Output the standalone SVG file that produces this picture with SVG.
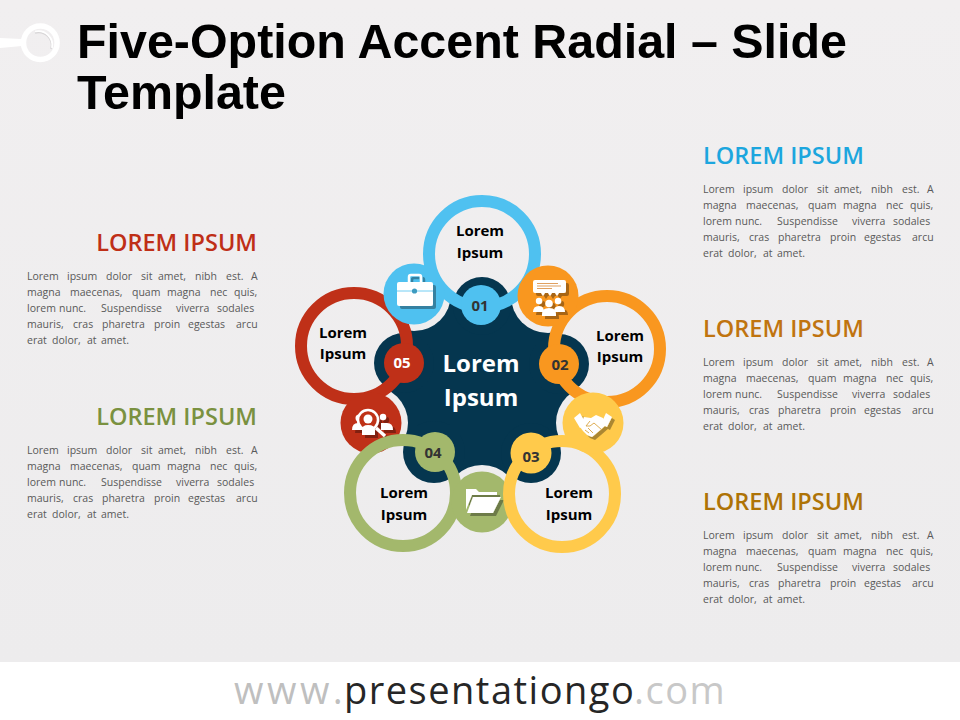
<svg xmlns="http://www.w3.org/2000/svg" width="960" height="720" viewBox="0 0 960 720">
<style>
text{font-family:"Open Sans","Liberation Sans",sans-serif}
.title{font-family:"Liberation Sans",Arial,sans-serif;font-weight:700;font-size:48.400px;fill:#000}
.head{font-weight:600;font-size:23.500px}
.body{font-size:10.500px;fill:#595959}
.lab{font-weight:700;font-size:15px;fill:#000;text-anchor:middle}
.num{font-weight:700;font-size:15px;fill:#333;text-anchor:middle}
.ring{fill:none;stroke-width:12}
.w{fill:#fff}
.ws{fill:none;stroke:#fff}
</style>
<defs>
<linearGradient id="bg" gradientUnits="userSpaceOnUse" x1="0" y1="0" x2="0" y2="662"><stop offset="0" stop-color="#f1eff0"/><stop offset="1" stop-color="#edeced"/></linearGradient>
<filter id="sh" x="-20%" y="-20%" width="150%" height="150%"><feDropShadow dx="3" dy="3" stdDeviation="0.6" flood-color="#000" flood-opacity="0.33"/></filter>
</defs>
<rect width="960" height="662" fill="url(#bg)"/>
<rect y="662" width="960" height="58" fill="#fff"/>
<g id="header-mark">
<path d="M0 38L22 39V46L0 48Z" fill="#fff"/>
<circle cx="40.300" cy="42.700" r="16.800" fill="none" stroke="#fff" stroke-width="5.500"/>
<path d="M35 33A13 13 0 0 1 51 49" fill="none" stroke="#d8d6d7" stroke-width="1.500"/>
<path d="M35 31.500A14 14 0 0 1 52 48" fill="none" stroke="#fff" stroke-width="1.800"/>
</g>
<text class="title" x="77" y="58">Five-Option Accent Radial – Slide</text>
<text class="title" x="77" y="109">Template</text>

<g id="text-r1" transform="translate(703,0)">
<text class="head" y="164" fill="#1CA6DE">LOREM IPSUM</text>
<text class="body"><tspan y="193" x="0">Lorem</tspan> <tspan x="40">ipsum</tspan> <tspan x="79">dolor</tspan> <tspan x="114">sit</tspan> <tspan x="131">amet,</tspan> <tspan x="168">nibh</tspan> <tspan x="199">est.</tspan> <tspan x="224">A</tspan><tspan y="209" x="0">magna</tspan> <tspan x="43">maecenas,</tspan> <tspan x="105">quam</tspan> <tspan x="140">magna</tspan> <tspan x="183">nec</tspan> <tspan x="207">quis,</tspan><tspan y="225" x="0">lorem</tspan> <tspan x="32">nunc.</tspan> <tspan x="74">Suspendisse</tspan> <tspan x="149">viverra</tspan> <tspan x="190">sodales</tspan><tspan y="241" x="0">mauris,</tspan> <tspan x="46">cras</tspan> <tspan x="75">pharetra</tspan> <tspan x="127">proin</tspan> <tspan x="161">egestas</tspan> <tspan x="209">arcu</tspan><tspan y="257" x="0">erat</tspan> <tspan x="25">dolor,</tspan> <tspan x="60">at</tspan> <tspan x="74">amet.</tspan></text>
</g>
<g id="text-r2" transform="translate(703,173)">
<text class="head" y="164" fill="#C0740F">LOREM IPSUM</text>
<text class="body"><tspan y="193" x="0">Lorem</tspan> <tspan x="40">ipsum</tspan> <tspan x="79">dolor</tspan> <tspan x="114">sit</tspan> <tspan x="131">amet,</tspan> <tspan x="168">nibh</tspan> <tspan x="199">est.</tspan> <tspan x="224">A</tspan><tspan y="209" x="0">magna</tspan> <tspan x="43">maecenas,</tspan> <tspan x="105">quam</tspan> <tspan x="140">magna</tspan> <tspan x="183">nec</tspan> <tspan x="207">quis,</tspan><tspan y="225" x="0">lorem</tspan> <tspan x="32">nunc.</tspan> <tspan x="74">Suspendisse</tspan> <tspan x="149">viverra</tspan> <tspan x="190">sodales</tspan><tspan y="241" x="0">mauris,</tspan> <tspan x="46">cras</tspan> <tspan x="75">pharetra</tspan> <tspan x="127">proin</tspan> <tspan x="161">egestas</tspan> <tspan x="209">arcu</tspan><tspan y="257" x="0">erat</tspan> <tspan x="25">dolor,</tspan> <tspan x="60">at</tspan> <tspan x="74">amet.</tspan></text>
</g>
<g id="text-r3" transform="translate(703,346)">
<text class="head" y="164" fill="#AE7306">LOREM IPSUM</text>
<text class="body"><tspan y="193" x="0">Lorem</tspan> <tspan x="40">ipsum</tspan> <tspan x="79">dolor</tspan> <tspan x="114">sit</tspan> <tspan x="131">amet,</tspan> <tspan x="168">nibh</tspan> <tspan x="199">est.</tspan> <tspan x="224">A</tspan><tspan y="209" x="0">magna</tspan> <tspan x="43">maecenas,</tspan> <tspan x="105">quam</tspan> <tspan x="140">magna</tspan> <tspan x="183">nec</tspan> <tspan x="207">quis,</tspan><tspan y="225" x="0">lorem</tspan> <tspan x="32">nunc.</tspan> <tspan x="74">Suspendisse</tspan> <tspan x="149">viverra</tspan> <tspan x="190">sodales</tspan><tspan y="241" x="0">mauris,</tspan> <tspan x="46">cras</tspan> <tspan x="75">pharetra</tspan> <tspan x="127">proin</tspan> <tspan x="161">egestas</tspan> <tspan x="209">arcu</tspan><tspan y="257" x="0">erat</tspan> <tspan x="25">dolor,</tspan> <tspan x="60">at</tspan> <tspan x="74">amet.</tspan></text>
</g>
<g id="text-l1" transform="translate(27,87)">
<text class="head" x="230" y="164" text-anchor="end" fill="#BF2F17">LOREM IPSUM</text>
<text class="body"><tspan y="193" x="0">Lorem</tspan> <tspan x="40">ipsum</tspan> <tspan x="79">dolor</tspan> <tspan x="114">sit</tspan> <tspan x="131">amet,</tspan> <tspan x="168">nibh</tspan> <tspan x="199">est.</tspan> <tspan x="224">A</tspan><tspan y="209" x="0">magna</tspan> <tspan x="43">maecenas,</tspan> <tspan x="105">quam</tspan> <tspan x="140">magna</tspan> <tspan x="183">nec</tspan> <tspan x="207">quis,</tspan><tspan y="225" x="0">lorem</tspan> <tspan x="32">nunc.</tspan> <tspan x="74">Suspendisse</tspan> <tspan x="149">viverra</tspan> <tspan x="190">sodales</tspan><tspan y="241" x="0">mauris,</tspan> <tspan x="46">cras</tspan> <tspan x="75">pharetra</tspan> <tspan x="127">proin</tspan> <tspan x="161">egestas</tspan> <tspan x="209">arcu</tspan><tspan y="257" x="0">erat</tspan> <tspan x="25">dolor,</tspan> <tspan x="60">at</tspan> <tspan x="74">amet.</tspan></text>
</g>
<g id="text-l2" transform="translate(27,261)">
<text class="head" x="230" y="164" text-anchor="end" fill="#7A9140">LOREM IPSUM</text>
<text class="body"><tspan y="193" x="0">Lorem</tspan> <tspan x="40">ipsum</tspan> <tspan x="79">dolor</tspan> <tspan x="114">sit</tspan> <tspan x="131">amet,</tspan> <tspan x="168">nibh</tspan> <tspan x="199">est.</tspan> <tspan x="224">A</tspan><tspan y="209" x="0">magna</tspan> <tspan x="43">maecenas,</tspan> <tspan x="105">quam</tspan> <tspan x="140">magna</tspan> <tspan x="183">nec</tspan> <tspan x="207">quis,</tspan><tspan y="225" x="0">lorem</tspan> <tspan x="32">nunc.</tspan> <tspan x="74">Suspendisse</tspan> <tspan x="149">viverra</tspan> <tspan x="190">sodales</tspan><tspan y="241" x="0">mauris,</tspan> <tspan x="46">cras</tspan> <tspan x="75">pharetra</tspan> <tspan x="127">proin</tspan> <tspan x="161">egestas</tspan> <tspan x="209">arcu</tspan><tspan y="257" x="0">erat</tspan> <tspan x="25">dolor,</tspan> <tspan x="60">at</tspan> <tspan x="74">amet.</tspan></text>
</g>

<g id="hub">
<polygon points="414,294 482,305 548,296 559,364 593,423 531,453 482,502 434,452 371,423 404,363" fill="#05364F"/>
<g fill="#05364F"><circle cx="482" cy="306" r="29"/><circle cx="559" cy="364" r="30"/><circle cx="531" cy="453" r="30"/><circle cx="434" cy="452" r="31"/><circle cx="404" cy="363" r="30"/></g>
<g fill="url(#bg)"><circle cx="414" cy="294" r="37"/><circle cx="548" cy="296" r="37"/><circle cx="593" cy="423" r="37"/><circle cx="482" cy="502" r="37"/><circle cx="371" cy="423" r="37"/></g>
<text x="481" y="372" fill="#fff" font-weight="700" font-size="24" text-anchor="middle">Lorem</text>
<text x="481" y="406" fill="#fff" font-weight="700" font-size="24" text-anchor="middle">Ipsum</text>
</g>

<g id="node-05">
<circle class="ring" cx="354" cy="346" r="53" stroke="#BF3018"/>
<circle cx="371" cy="423" r="30.500" fill="#BF3018"/>
<g filter="url(#sh)">
<circle cx="359" cy="418" r="3.500" class="w"/><path class="w" d="M352 430Q352 423 358 423L362 423V430Z"/>
<circle cx="383" cy="417" r="3.200" class="w"/><path class="w" d="M393 430Q393 423 387 423H381V430Z"/>
<circle cx="368" cy="420" r="10" fill="#BF3018" stroke="#fff" stroke-width="2.500"/>
<circle cx="368" cy="419" r="4.500" class="w"/><path class="w" d="M362 435V430Q362 425 368 425Q375 425 375 430V435Z"/>
<path class="ws" stroke-width="3.200" d="M376 428L385 436"/>
</g>
<circle cx="404" cy="363" r="20" fill="#BF3018"/>
<text class="num" x="402" y="368" style="fill:#fff">05</text>
<text class="lab" x="343" y="338">Lorem</text><text class="lab" x="343" y="359">Ipsum</text>
</g>

<g id="node-01">
<circle class="ring" cx="482" cy="254" r="53" stroke="#4FC1F0"/>
<circle cx="414" cy="294" r="30.500" fill="#4FC1F0"/>
<g filter="url(#sh)">
<path class="ws" stroke-width="2.500" d="M409 283V277Q409 275 411 275H419Q421 275 421 277V283"/>
<rect class="w" x="397" y="282" width="36" height="24" rx="2"/>
</g>
<path d="M397 291H433" stroke="#4FC1F0" stroke-width="0.800"/>
<circle cx="414.500" cy="291" r="2.600" fill="#3D9BC0"/>
<circle cx="481" cy="305" r="20" fill="#4FC1F0"/>
<text class="num" x="480" y="311">01</text>
<text class="lab" x="480" y="236">Lorem</text><text class="lab" x="480" y="258">Ipsum</text>
</g>

<g id="node-02">
<circle class="ring" cx="607" cy="349" r="53" stroke="#F9971F"/>
<circle cx="548" cy="296" r="30.500" fill="#F9971F"/>
<g filter="url(#sh)">
<path class="w" d="M535 280H564Q566 280 566 282V291Q566 293 564 293H559L557 296L555 293H552L550 296L548 293H545L543 296L541 293H535Q533 293 533 291V282Q533 280 535 280Z"/>
<circle cx="539" cy="301" r="3.200" class="w"/><circle cx="558" cy="301" r="3.200" class="w"/>
<path class="w" d="M533 312Q533 306 539 306Q544 306 544 312Z"/><path class="w" d="M554 312Q554 306 559 306Q565 306 565 312Z"/>
<circle cx="549" cy="303.500" r="3.700" class="w"/><path class="w" d="M542 316V314Q542 308 549 308Q556 308 556 314V316Z"/>
</g>
<path d="M537 283.500H558M537 286H561M537 288.500H552" stroke="#E0A060" stroke-width="1.200"/>
<circle cx="559" cy="364" r="20" fill="#F9971F"/>
<text class="num" x="560" y="370">02</text>
<text class="lab" x="620" y="341">Lorem</text><text class="lab" x="620" y="362">Ipsum</text>
</g>

<g id="node-04">
<circle class="ring" cx="403" cy="493" r="53" stroke="#A3B86C"/>
<circle cx="482" cy="502" r="30.500" fill="#A3B86C"/>
<g filter="url(#sh)">
<path class="w" d="M466 489H476L479 492H497V495H472L466 510Z"/>
<polygon class="w" points="473,497 501,497 493,513 467,513"/>
</g>
<circle cx="435" cy="452" r="20" fill="#A3B86C"/>
<text class="num" x="433" y="458">04</text>
<text class="lab" x="404" y="498">Lorem</text><text class="lab" x="404" y="520">Ipsum</text>
</g>

<g id="node-03">
<circle class="ring" cx="562" cy="494" r="53" stroke="#FFCA4B"/>
<circle cx="593" cy="423" r="30.500" fill="#FFCA4B"/>
<g filter="url(#sh)">
<polygon class="w" points="574,418 580,413 586,424 580,428"/>
<polygon class="w" points="601,424 606,413 612,417 607,427"/>
<path class="w" d="M584 417L591 418L596 415L603 418L606 425L598 432L592 437L587 435L583 431L580 427Z"/>
</g>
<path d="M590 421L586 426L590 426L594 423L602 430M585 430L589 433M588 428L593 433" fill="none" stroke="#D9A441" stroke-width="0.900"/>
<circle cx="531" cy="453" r="20.500" fill="#FFCA4B"/>
<text class="num" x="531" y="462">03</text>
<text class="lab" x="569" y="498">Lorem</text><text class="lab" x="569" y="520">Ipsum</text>
</g>

<text y="704" font-size="38"><tspan x="234" fill="#bfbfbf" letter-spacing="3.500">www.</tspan><tspan x="344" fill="#262626" letter-spacing="1.500">presentationgo</tspan><tspan x="634" fill="#c8c8c8" letter-spacing="1.500">.com</tspan></text>
</svg>
